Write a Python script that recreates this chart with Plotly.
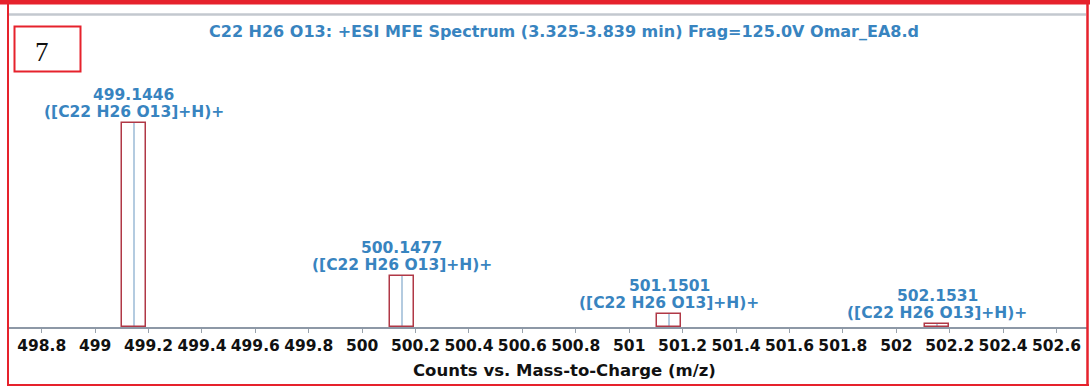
import plotly.graph_objects as go

# Isotope peaks of [C22H26O13+H]+ (m/z) and their relative abundance (%)
mz_values = [499.1446, 500.1477, 501.1501, 502.1531]
rel_abundance = [100.0, 25.0, 6.4, 1.6]
ion_formula = "([C22 H26 O13]+H)+"

tick_vals = [498.8, 499.0, 499.2, 499.4, 499.6, 499.8, 500.0, 500.2, 500.4, 500.6,
             500.8, 501.0, 501.2, 501.4, 501.6, 501.8, 502.0, 502.2, 502.4, 502.6]
tick_text = ["498.8", "499", "499.2", "499.4", "499.6", "499.8", "500", "500.2", "500.4", "500.6",
             "500.8", "501", "501.2", "501.4", "501.6", "501.8", "502", "502.2", "502.4", "502.6"]

title_text = "C22 H26 O13: +ESI MFE Spectrum (3.325-3.839 min) Frag=125.0V Omar_EA8.d"
xaxis_title = "Counts vs. Mass-to-Charge (m/z)"
panel_label = "7"

FIG_W, FIG_H = 1090, 387
M_L, M_R, M_T, M_B = 8, 3, 14, 60
PLOT_W = FIG_W - M_L - M_R
PLOT_H = FIG_H - M_T - M_B

BLUE = "#3884c0"
RED_FRAME = "#e6222c"
PEAK_EDGE = "#b03846"
STICK = "#b4cbe0"
FONT = "DejaVu Sans"


def px(x):
    """Horizontal page pixel -> paper coordinate."""
    return (x - M_L) / PLOT_W


def py(y):
    """Vertical page pixel (from top) -> paper coordinate."""
    return (FIG_H - M_B - y) / PLOT_H


fig = go.Figure()

# Centroid sticks
fig.add_trace(go.Bar(
    x=mz_values, y=rel_abundance, width=0.004,
    marker=dict(color=STICK, line=dict(width=0)),
    hoverinfo="skip", showlegend=False,
))
# Peak boxes (outlined, unfilled)
fig.add_trace(go.Bar(
    x=mz_values, y=rel_abundance, width=0.09,
    marker=dict(color="rgba(255,255,255,0)", line=dict(color=PEAK_EDGE, width=1.5)),
    showlegend=False,
))

# Peak labels: m/z on the upper line, ion formula just above the box
for m, a in zip(mz_values, rel_abundance):
    fig.add_annotation(
        x=m, y=a, xref="x", yref="y",
        text=f"<b>{m:.4f}</b>",
        showarrow=False, yanchor="middle", yshift=28,
        font=dict(family=FONT, size=15.5, color=BLUE),
    )
    fig.add_annotation(
        x=m, y=a, xref="x", yref="y",
        text=f"<b>{ion_formula}</b>",
        showarrow=False, yanchor="middle", yshift=11,
        font=dict(family=FONT, size=15.5, color=BLUE),
    )

# Spectrum title
fig.add_annotation(
    x=px(563.5), y=py(31), xref="paper", yref="paper",
    text=f"<b>{title_text}</b>", showarrow=False,
    xanchor="center", yanchor="middle",
    font=dict(family=FONT, size=16, color=BLUE),
)

# X axis title
fig.add_annotation(
    x=px(564), y=py(370), xref="paper", yref="paper",
    text=f"<b>{xaxis_title}</b>", showarrow=False,
    xanchor="center", yanchor="middle",
    font=dict(family=FONT, size=16.5, color="#111111"),
)

# Panel number box
fig.add_shape(type="rect", xref="paper", yref="paper",
              x0=px(14.5), x1=px(80.5), y0=py(71.5), y1=py(26.5),
              line=dict(color=RED_FRAME, width=2), fillcolor="white")
fig.add_annotation(
    x=px(41.5), y=py(52), xref="paper", yref="paper",
    text=panel_label, showarrow=False, xanchor="center", yanchor="middle",
    font=dict(family="Liberation Serif", size=27, color="#111111"),
)

# Panel top rule
fig.add_shape(type="line", xref="paper", yref="paper",
              x0=px(9), x1=px(1086), y0=py(14.5), y1=py(14.5),
              line=dict(color="#c3c8cf", width=2.5))

# Outer red frame
fig.add_shape(type="rect", xref="paper", yref="paper",
              x0=px(0), x1=px(FIG_W), y0=py(4.5), y1=py(0),
              line=dict(width=0), fillcolor=RED_FRAME)
fig.add_shape(type="line", xref="paper", yref="paper",
              x0=px(8), x1=px(8), y0=py(386), y1=py(2),
              line=dict(color=RED_FRAME, width=2))
fig.add_shape(type="line", xref="paper", yref="paper",
              x0=px(1087.5), x1=px(1087.5), y0=py(386), y1=py(2),
              line=dict(color=RED_FRAME, width=2.5))
fig.add_shape(type="line", xref="paper", yref="paper",
              x0=px(7), x1=px(1089), y0=py(385), y1=py(385),
              line=dict(color=RED_FRAME, width=2))

fig.update_layout(
    width=FIG_W, height=FIG_H,
    margin=dict(l=M_L, r=M_R, t=M_T, b=M_B, pad=0),
    paper_bgcolor="white", plot_bgcolor="white",
    barmode="overlay", bargap=0,
    showlegend=False,
    xaxis=dict(
        range=[498.674, 502.714],
        tickmode="array", tickvals=tick_vals, ticktext=tick_text,
        ticks="outside", ticklen=4, tickwidth=1, tickcolor="#9aa3ad",
        showline=True, linecolor="#8d98a6", linewidth=1.5,
        showgrid=False, zeroline=False,
        tickfont=dict(family=FONT, size=15.5, color="#111111", weight="bold"),
    ),
    yaxis=dict(range=[0, 153.7], visible=False, showgrid=False, zeroline=False),
)

fig.write_html("out.html")
